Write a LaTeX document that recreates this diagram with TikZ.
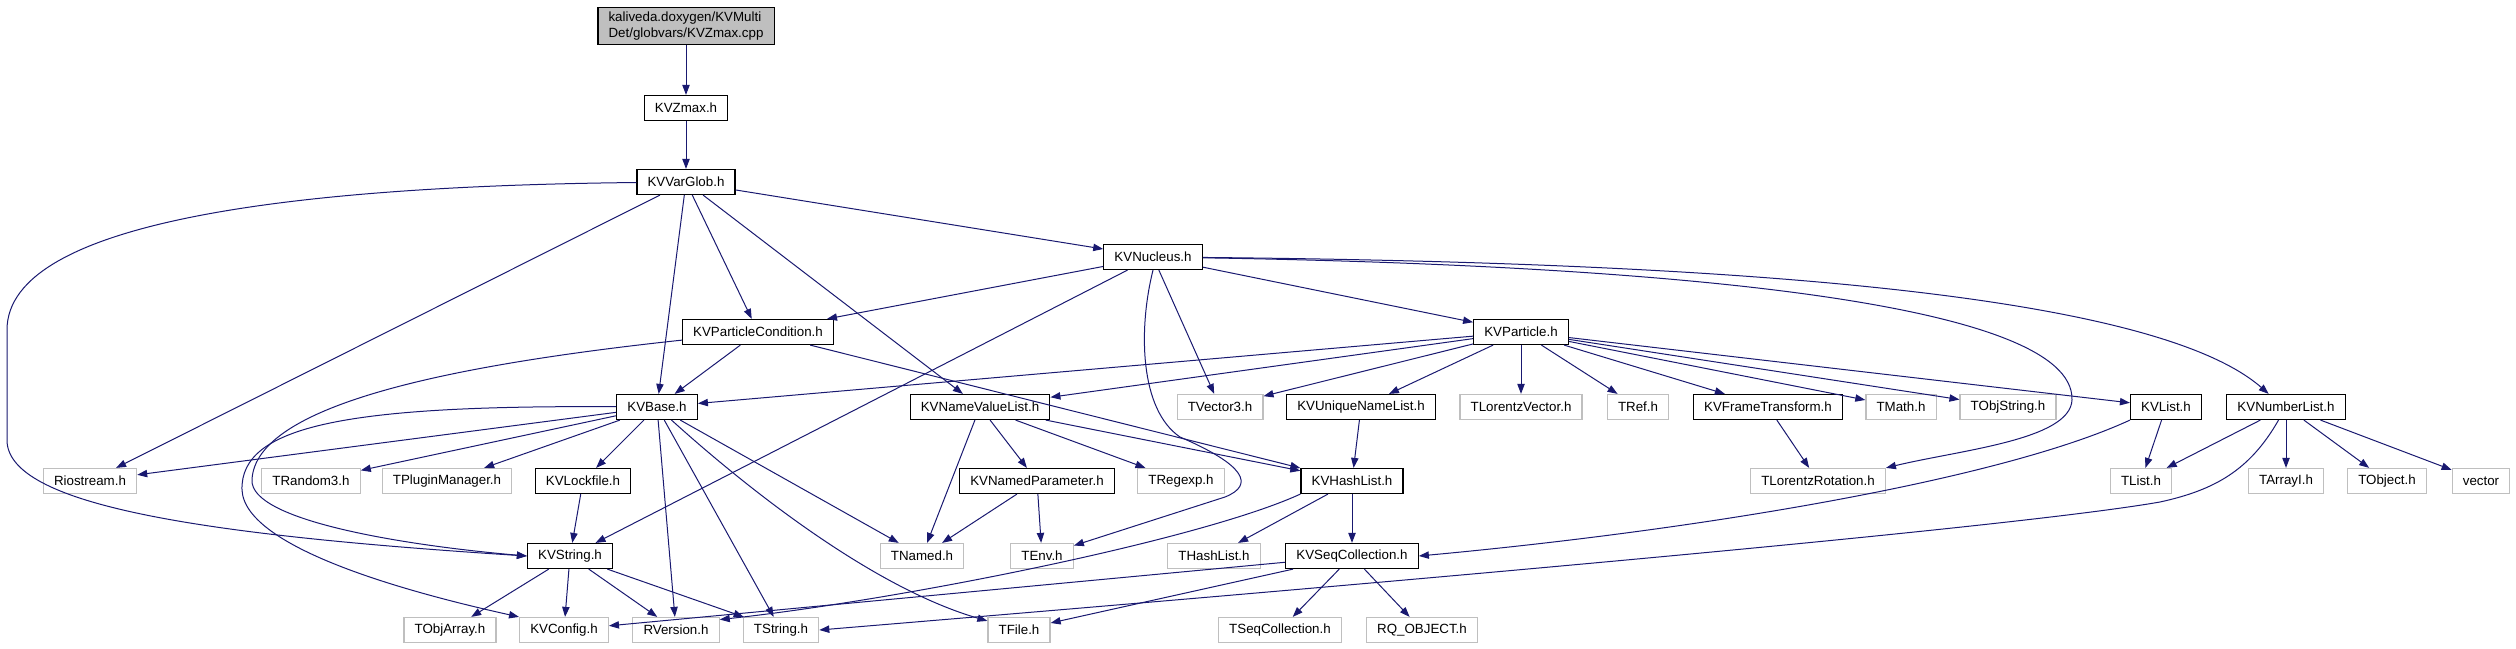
\documentclass[tikz,border=0pt]{standalone}
\usepackage{fontspec}
\setmainfont{Liberation Sans}
\usetikzlibrary{arrows.meta}
\definecolor{EdgeBlue}{RGB}{25,25,112}
\definecolor{BoxGray}{RGB}{191,191,191}

\begin{document}
\begin{tikzpicture}[x=.75pt,y=-.75pt,font=\fontsize{10}{12}\selectfont,
  hdr/.style={draw=black,line width=.9pt,fill=white,minimum height=18.75pt,inner xsep=8pt,inner ysep=2pt},
  sys/.style={hdr,draw=BoxGray},
  dep/.style={EdgeBlue,line width=.75pt,-{Triangle[length=7.5pt,width=5.5pt]}}]
\useasboundingbox (0,0) rectangle (2516,649);
% top of the graph
\node[hdr,fill=BoxGray,align=left,inner ysep=3pt] (root) at (686,26) {kaliveda.doxygen/KVMulti\\Det/globvars/KVZmax.cpp};
\node[hdr] (zmax) at (686,108) {KVZmax.h};
\node[hdr] (varglob) at (686,182) {KVVarGlob.h};
\node[hdr] (nucleus) at (1153,257) {KVNucleus.h};
\node[hdr] (pcond) at (758,332) {KVParticleCondition.h};
\node[hdr] (particle) at (1521,332) {KVParticle.h};
% rank 407
\foreach \n/\x/\lbl in {base/657/KVBase.h,nvlist/980/KVNameValueList.h,uniq/1361/KVUniqueNameList.h,frame/1768/KVFrameTransform.h,kvlist/2166/KVList.h,numlist/2286/KVNumberList.h}
  \node[hdr] (\n) at (\x,407) {\lbl};
\foreach \n/\x/\lbl in {tvec3/1220/TVector3.h,tlvec/1521/TLorentzVector.h,tref/1638/TRef.h,tmath/1901/TMath.h,tobjstr/2008/TObjString.h}
  \node[sys] (\n) at (\x,407) {\lbl};
% rank 481
\foreach \n/\x/\lbl in {lockf/583/KVLockfile.h,namedpar/1037/KVNamedParameter.h,hashl/1352/KVHashList.h}
  \node[hdr] (\n) at (\x,481) {\lbl};
\foreach \n/\x/\lbl in {riost/90/Riostream.h,trand/311/TRandom3.h,tplug/447/TPluginManager.h,tregexp/1181/TRegexp.h,tlrot/1818/TLorentzRotation.h,tlist/2141/TList.h,tarrayi/2286/TArrayI.h,tobject/2387/TObject.h,vect/2481/vector}
  \node[sys] (\n) at (\x,481) {\lbl};
% rank 556
\foreach \n/\x/\lbl in {kvstr/570/KVString.h,seqcoll/1352/KVSeqCollection.h}
  \node[hdr] (\n) at (\x,556) {\lbl};
\foreach \n/\x/\lbl in {tnamed/922/TNamed.h,tenv/1042/TEnv.h,thashl/1214/THashList.h}
  \node[sys] (\n) at (\x,556) {\lbl};
% rank 630
\foreach \n/\x/\lbl in {tobjarr/450/TObjArray.h,kvconf/564/KVConfig.h,rvers/676/RVersion.h,tstr/781/TString.h,tfile/1019/TFile.h,tseqcoll/1280/TSeqCollection.h,rqobj/1422/RQ\_OBJECT.h}
  \node[sys] (\n) at (\x,630) {\lbl};

% straight includes
\foreach \a/\b in {root/zmax,zmax/varglob,varglob/nucleus,varglob/pcond,varglob/base,varglob/nvlist,varglob/riost,
  nucleus/pcond,nucleus/particle,nucleus/tvec3,nucleus/kvstr,pcond/base,pcond/hashl,
  particle/base,particle/nvlist,particle/tvec3,particle/uniq,particle/tlvec,particle/tref,particle/frame,particle/tmath,particle/tobjstr,particle/kvlist,
  base/riost,base/trand,base/tplug,base/lockf,base/rvers,base/tstr,base/tnamed,
  nvlist/tnamed,nvlist/namedpar,nvlist/tregexp,nvlist/hashl,uniq/hashl,frame/tlrot,kvlist/tlist,
  numlist/tlist,numlist/tarrayi,numlist/tobject,numlist/vect,lockf/kvstr,namedpar/tnamed,namedpar/tenv,
  hashl/thashl,hashl/seqcoll,kvstr/tobjarr,kvstr/kvconf,kvstr/rvers,kvstr/tstr,
  seqcoll/tseqcoll,seqcoll/rqobj,seqcoll/tfile,seqcoll/kvconf}
  \draw[dep] (\a) -- (\b);

% curved includes
\draw[dep] (varglob) .. controls (300,186) and (7,220) .. (7,330) -- (7,440) .. controls (7,505) and (200,535) .. (kvstr.west);
\draw[dep] (pcond) .. controls (450,365) and (255,405) .. (252,480) .. controls (250,520) and (400,545) .. (kvstr.west);
\draw[dep] (base) .. controls (350,405) and (240,425) .. (242,490) .. controls (245,550) and (420,595) .. (kvconf.north west);
\draw[dep] (base) .. controls (760,500) and (880,590) .. (tfile);
\draw[dep] (nucleus.south) .. controls (1138,330) and (1140,410) .. (1180,437) .. controls (1245,465) and (1255,485) .. (1225,497) -- ([yshift=-2pt]tenv.north east);
\draw[dep] (nucleus) .. controls (1700,262) and (2150,290) .. ([xshift=-13pt]numlist.north);
\draw[dep] (nucleus) .. controls (1650,265) and (2075,300) .. (2072,400) .. controls (2070,440) and (1960,450) .. (tlrot.north east);
\draw[dep] (numlist) .. controls (2250,470) and (2215,490) .. (2160,502) .. controls (2000,530) and (1300,590) .. (tstr.east);
\draw[dep] (kvlist.south west) .. controls (2000,480) and (1700,530) .. (seqcoll.east);
\draw[dep] (hashl.south west) .. controls (1200,540) and (900,600) .. ([yshift=-2pt]rvers.north east);
\end{tikzpicture}
\end{document}
